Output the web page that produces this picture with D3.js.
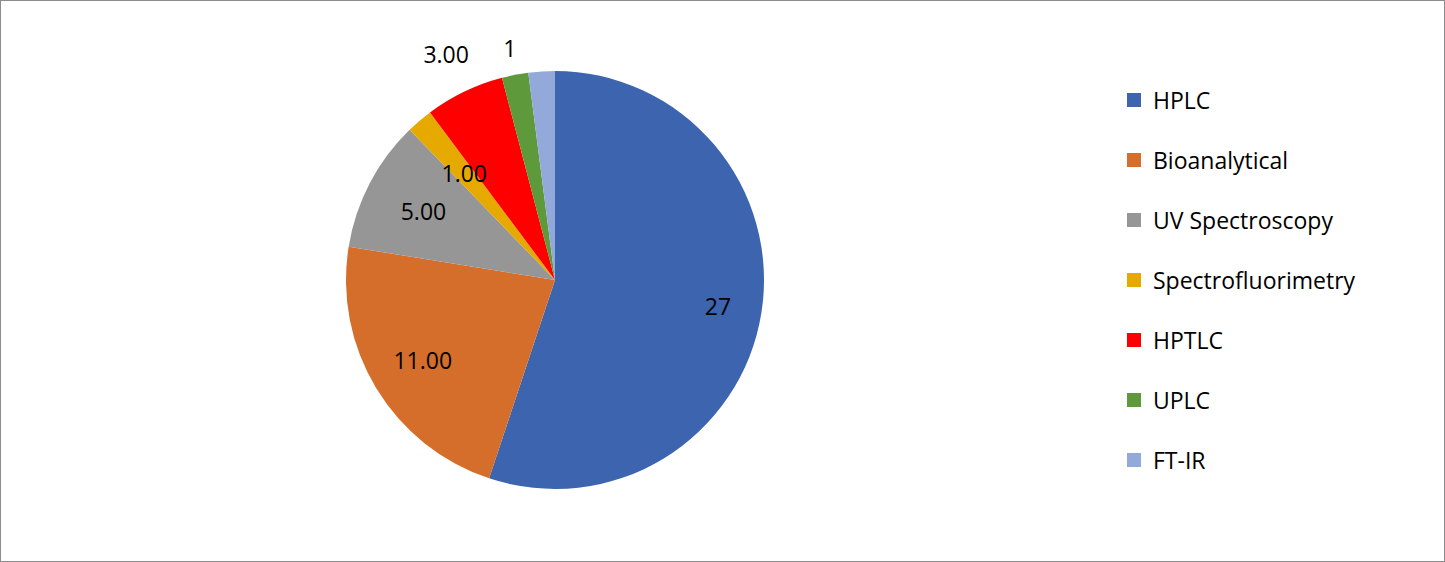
<!DOCTYPE html><html><head><script src="https://cdn.jsdelivr.net/npm/d3@7"></script>
<style>body{margin:0;background:#fff}</style></head><body><svg id="c" width="1445" height="562"></svg>
<script>
const categories=["HPLC","Bioanalytical","UV Spectroscopy","Spectrofluorimetry","HPTLC","UPLC","FT-IR"];
const values=[27,11,5,1,3,1,1];
const labels=["27","11.00","5.00","1.00","3.00","1",""];
const colors=["#3d64ae","#d46e2a","#969696","#e5a900","#ff0000","#5e9a3c","#92a9da"];
const labelRatio=[0.79,0.74,0.71,0.67,1.2,1.13,1];
const svg=d3.select("#c");
svg.append("rect").attr("x",0.5).attr("y",0.5).attr("width",1444).attr("height",561).attr("fill","#fff").attr("stroke","#8c8c8c");
const cx=555,cy=280,R=209;
const pie=d3.pie().sort(null).value(d=>d)(values);
const arc=d3.arc().innerRadius(0).outerRadius(R);
const g=svg.append("g").attr("transform",`translate(${cx},${cy})`);
g.selectAll("path").data(pie).join("path").attr("d",arc).attr("fill",(d,i)=>colors[i]);
g.selectAll("text").data(pie).join("text").attr("font-family","Open Sans, sans-serif").attr("font-size",23)
 .attr("text-anchor","middle").attr("dominant-baseline","central").attr("fill","#000")
 .attr("transform",(d,i)=>{const a=(d.startAngle+d.endAngle)/2, r=R*labelRatio[i];return `translate(${r*Math.sin(a)},${-r*Math.cos(a)})`;})
 .text((d,i)=>labels[i]);
const lg=svg.append("g");
categories.forEach((c,i)=>{const y=100+i*60;
 lg.append("rect").attr("x",1127).attr("y",y-7).attr("width",14).attr("height",14).attr("fill",colors[i]);
 lg.append("text").attr("x",1153).attr("y",y).attr("dominant-baseline","central").attr("font-family","Open Sans, sans-serif").attr("font-size",23).text(c);});
</script></body></html>
